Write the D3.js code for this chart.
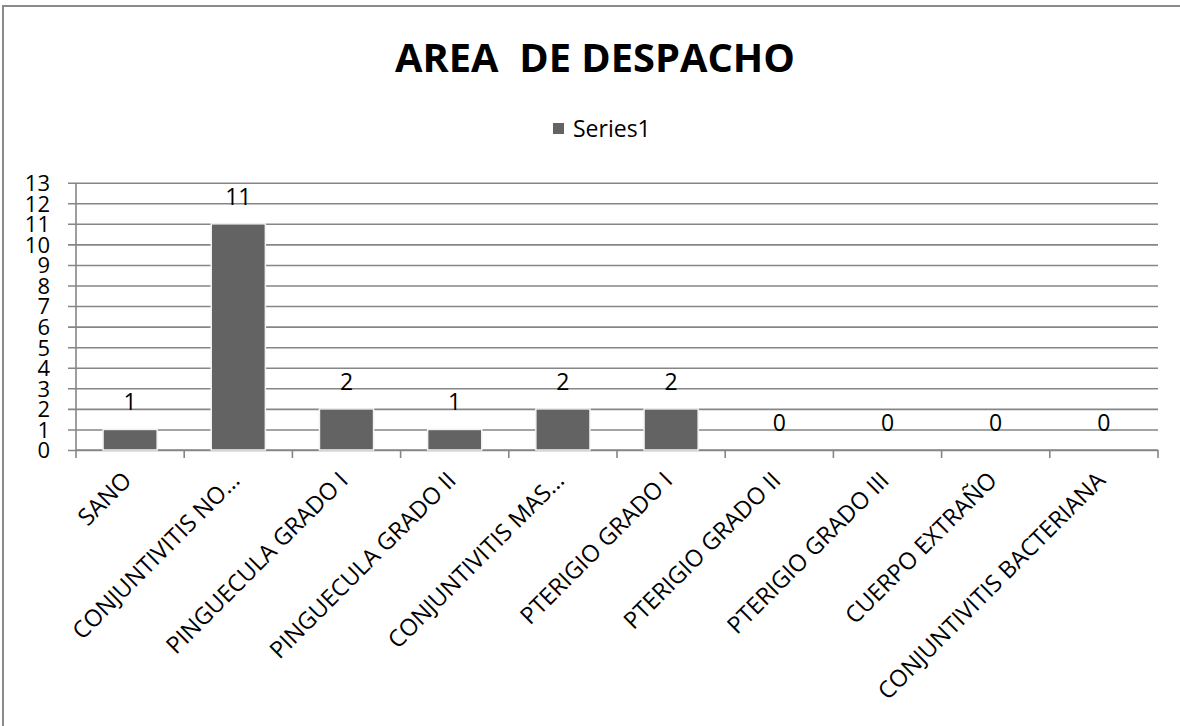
<!DOCTYPE html>
<html>
<head>
<meta charset="utf-8">
<script src="https://cdn.jsdelivr.net/npm/d3@7"></script>
<style>
  html, body { margin: 0; padding: 0; background: #fff; overflow: hidden; }
  svg { display: block; }
  text { font-family: "Open Sans", "Noto Sans", sans-serif; fill: #000; }
</style>
</head>
<body>
<svg id="chart" width="1180" height="726"></svg>
<script>
// Diagnoses seen at the dispatch area and how many patients had each one
const categories = [
  "SANO",
  "CONJUNTIVITIS NO…",
  "PINGUECULA GRADO I",
  "PINGUECULA GRADO II",
  "CONJUNTIVITIS MAS…",
  "PTERIGIO GRADO I",
  "PTERIGIO GRADO II",
  "PTERIGIO GRADO III",
  "CUERPO EXTRAÑO",
  "CONJUNTIVITIS BACTERIANA"
];
const values = [1, 11, 2, 1, 2, 2, 0, 0, 0, 0];
const yTickValues = [0, 1, 2, 3, 4, 5, 6, 7, 8, 9, 10, 11, 12, 13];
const seriesName = "Series1";
const chartTitle = "AREA  DE DESPACHO";

const svg = d3.select("#chart");

// outer frame of the chart object (only its left and top edges fall inside the page)
svg.append("path")
  .attr("d", "M3,726 L3,6 L1180,6")
  .attr("fill", "none")
  .attr("stroke", "#8a8a8a")
  .attr("stroke-width", 2);

const plot = { left: 76, right: 1158, top: 182.7, bottom: 450 };

const x = d3.scaleBand().domain(categories).range([plot.left, plot.right]).padding(0);
const y = d3.scaleLinear().domain([0, 13]).range([plot.bottom, plot.top]);

const gridColor = "#868686";

// horizontal gridlines with short ticks on the left
const yAxis = d3.axisLeft(y)
  .tickValues(yTickValues)
  .tickSize(-(plot.right - plot.left))
  .tickSizeOuter(0)
  .tickFormat(d3.format("d"));

const gy = svg.append("g")
  .attr("transform", `translate(${plot.left},0)`)
  .call(yAxis);
gy.select(".domain").remove();
gy.selectAll(".tick line")
  .attr("x1", -8)
  .attr("stroke", gridColor)
  .attr("stroke-width", 1.6);
gy.selectAll(".tick text")
  .attr("x", -26)
  .attr("dy", "0.36em")
  .style("font-size", "22px")
  .style("font-family", "'Open Sans', sans-serif")
  .attr("fill", "#000");

// vertical axis line
svg.append("line")
  .attr("x1", plot.left).attr("x2", plot.left)
  .attr("y1", plot.top).attr("y2", plot.bottom)
  .attr("stroke", gridColor).attr("stroke-width", 1.6);

// category axis: baseline plus tick marks on band boundaries
const gx = svg.append("g");
gx.append("line")
  .attr("x1", plot.left).attr("x2", plot.right)
  .attr("y1", plot.bottom).attr("y2", plot.bottom)
  .attr("stroke", gridColor).attr("stroke-width", 1.6);
const boundaries = categories.map(c => x(c)).concat([x(categories[categories.length - 1]) + x.bandwidth()]);
gx.selectAll("line.tk")
  .data(boundaries)
  .join("line")
  .attr("class", "tk")
  .attr("x1", d => d).attr("x2", d => d)
  .attr("y1", plot.bottom).attr("y2", plot.bottom + 8)
  .attr("stroke", gridColor).attr("stroke-width", 1.6);

// rotated category labels
gx.selectAll("text.cat")
  .data(categories)
  .join("text")
  .attr("class", "cat")
  .attr("text-anchor", "end")
  .attr("dy", "0.35em")
  .style("font-size", "23.5px")
  .attr("transform", d => `translate(${x(d) + x.bandwidth() / 2 - 3},${plot.bottom + 26}) rotate(-45)`)
  .text(d => d);

// bars
const barW = x.bandwidth() * 0.5;
const rows = categories.map((c, i) => ({ c, v: values[i] }));
svg.append("g").selectAll("rect")
  .data(rows.filter(r => r.v > 0))
  .join("rect")
  .attr("x", d => x(d.c) + (x.bandwidth() - barW) / 2)
  .attr("y", d => y(d.v))
  .attr("width", barW)
  .attr("height", d => y(0) - y(d.v))
  .attr("fill", "#636363")
  .attr("stroke", "#f2f2f2")
  .attr("stroke-width", 1.5);

// value labels
svg.append("g").selectAll("text")
  .data(rows)
  .join("text")
  .attr("text-anchor", "middle")
  .attr("x", d => x(d.c) + x.bandwidth() / 2)
  .attr("y", d => y(d.v) - 19)
  .style("font-size", "23px")
  .text(d => d.v);

// title
svg.append("text")
  .attr("x", 595).attr("y", 72)
  .attr("text-anchor", "middle")
  .style("font-size", "40px")
  .style("font-weight", "700")
  .style("white-space", "pre")
  .attr("textLength", 400)
  .attr("lengthAdjust", "spacingAndGlyphs")
  .text(chartTitle);

// legend
const lg = svg.append("g");
lg.append("rect")
  .attr("x", 553).attr("y", 123)
  .attr("width", 11).attr("height", 11)
  .attr("fill", "#636363");
lg.append("text")
  .attr("x", 573).attr("y", 137)
  .style("font-size", "23px")
  .text(seriesName);
</script>
</body>
</html>
